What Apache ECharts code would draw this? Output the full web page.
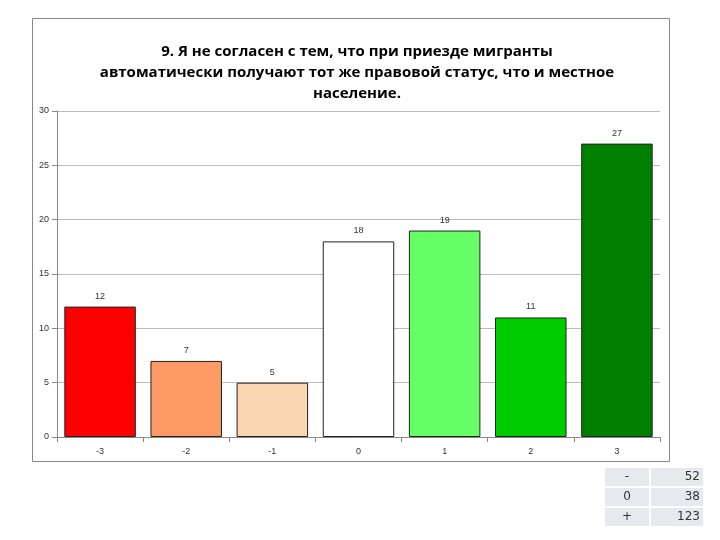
<!DOCTYPE html>
<html><head><meta charset="utf-8">
<script src="https://cdn.jsdelivr.net/npm/echarts@6/dist/echarts.min.js"></script>
<style>html,body{margin:0;padding:0;background:#fff}#c{width:720px;height:540px}</style>
</head><body><div id="c"></div>
<script>
var categories = ['-3','-2','-1','0','1','2','3'];
var values = [12,7,5,18,19,11,27];
var colors = ['#ff0000','#ff9966','#f9d5b0','#ffffff','#66ff66','#00cc00','#008000'];
var tableLabels = ['-','0','+'];
var tableValues = [52,38,123];
var titleText = '9. Я не согласен с тем, что при приезде мигранты\nавтоматически получают тот же правовой статус, что и местное\nнаселение.';
var chart = echarts.init(document.getElementById('c'));
var gfx = [{type:'rect',shape:{x:32.5,y:18.5,width:637,height:443},style:{fill:'none',stroke:'#888',lineWidth:1},z:-1}];
tableLabels.forEach(function(l,i){
  var y = 468 + i*20;
  gfx.push({type:'rect',shape:{x:605,y:y,width:44,height:18},style:{fill:'#e6eaee'}});
  gfx.push({type:'rect',shape:{x:651,y:y,width:52,height:18},style:{fill:'#e6eaee'}});
  gfx.push({type:'text',x:627,y:y+9,style:{text:l,align:'center',verticalAlign:'middle',font:'12px "DejaVu Sans"',fill:'#333'}});
  gfx.push({type:'text',x:700,y:y+9,style:{text:String(tableValues[i]),align:'right',verticalAlign:'middle',font:'12px "DejaVu Sans"',fill:'#333'}});
});
chart.setOption({
  animation:false,
  title:{text:titleText,left:352,top:36,textAlign:'center',textStyle:{fontFamily:'Open Sans',fontSize:15,fontWeight:'bold',lineHeight:21,color:'#000'}},
  grid:{left:57,right:60,top:111,bottom:103},
  xAxis:{type:'category',data:categories,axisLine:{lineStyle:{color:'#888'}},axisTick:{show:true,lineStyle:{color:'#888'}},axisLabel:{fontSize:9,color:'#333',margin:10}},
  yAxis:{type:'value',min:0,max:30,interval:5,axisLine:{show:true,lineStyle:{color:'#888'}},axisTick:{show:true,lineStyle:{color:'#888'}},splitLine:{lineStyle:{color:'#bbb'}},axisLabel:{fontSize:9,color:'#333'}},
  series:[{type:'bar',barCategoryGap:'17%',data:values.map(function(v,i){return {value:v,itemStyle:{color:colors[i]}};}),
    itemStyle:{borderColor:'#222',borderWidth:1},
    label:{show:true,position:'top',fontSize:9,color:'#333',distance:6}}],
  graphic:gfx
});
</script></body></html>
